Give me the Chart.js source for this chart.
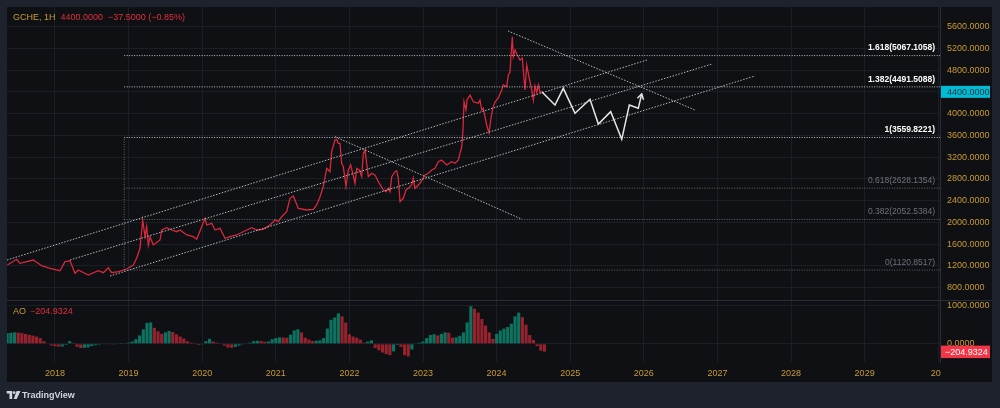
<!DOCTYPE html>
<html>
<head>
<meta charset="utf-8">
<script src="https://cdn.jsdelivr.net/npm/chart.js@4/dist/chart.umd.min.js"></script>
<style>
html,body{margin:0;padding:0;background:#1e222d;width:1000px;height:408px;overflow:hidden;font-family:'Liberation Sans',Arial,sans-serif}
#panel{position:absolute;left:7px;top:7px;width:985px;height:375px;background:#0e1013}
#c1{position:absolute;left:7px;top:7px}
#c2{position:absolute;left:7px;top:301px}
#sep{position:absolute;left:7px;top:300px;width:985px;height:1px;background:#2a2e39}
.lbl{position:absolute;font-size:9px;line-height:10px;white-space:nowrap}
.gold{color:#c99a35}
.red{color:#e0303f}
#tv{position:absolute;left:22px;top:390px;font-size:9px;font-weight:bold;color:#d1d4dc;line-height:11px}
</style>
</head>
<body>
<div id="panel"></div>
<canvas id="c1" width="985" height="293"></canvas>
<div id="sep"></div>
<canvas id="c2" width="985" height="81"></canvas>
<div class="lbl" style="left:13px;top:12px"><span class="gold">GCHE, 1H</span><span class="red" style="margin-left:5px">4400.0000</span><span class="red" style="margin-left:5px">−37.5000 (−0.85%)</span></div>
<div class="lbl" style="left:13px;top:306px"><span class="gold">AO</span><span class="red" style="margin-left:4px">−204.9324</span></div>
<svg style="position:absolute;left:6px;top:390px" width="15" height="10" viewBox="0 0 15 10">
<path d="M0.7 1h5.5v8h-2.7v-5.5h-2.8z" fill="#d1d4dc"/>
<circle cx="8.1" cy="2.6" r="1.4" fill="#d1d4dc"/>
<path d="M10.6 1h3.9l-3.8 8h-3z" fill="#d1d4dc"/>
</svg>
<div id="tv">TradingView</div>
<script>
// ---------- data ----------
const yearTicks = [2018,2019,2020,2021,2022,2023,2024,2025,2026,2027,2028,2029,2030];
const priceTicks = [800,1200,1600,2000,2400,2800,3200,3600,4000,4400,4800,5200,5600];
const aoTicks = [0,1000];

const priceYears = [2017.352,2017.480,2017.524,2017.705,2017.819,2017.932,2018.068,2018.136,2018.204,2018.272,
2018.317,2018.452,2018.588,2018.656,2018.724,2018.770,2018.860,2018.974,2019.064,2019.110,
2019.155,2019.192,2019.223,2019.246,2019.268,2019.291,2019.336,2019.427,2019.450,2019.518,
2019.586,2019.654,2019.698,2019.789,2019.879,2019.925,2019.993,2020.038,2020.061,2020.129,
2020.174,2020.242,2020.310,2020.378,2020.469,2020.605,2020.673,2020.740,2020.830,2020.921,
2020.989,2021.034,2021.080,2021.148,2021.193,2021.238,2021.306,2021.420,2021.510,2021.556,
2021.601,2021.645,2021.692,2021.736,2021.759,2021.804,2021.827,2021.849,2021.872,2021.895,
2021.917,2021.954,2021.985,2022.018,2022.045,2022.076,2022.099,2022.134,2022.167,2022.189,
2022.212,2022.235,2022.257,2022.303,2022.348,2022.393,2022.461,2022.497,2022.529,2022.552,
2022.575,2022.620,2022.643,2022.664,2022.688,2022.732,2022.769,2022.800,2022.846,2022.868,
2022.891,2022.959,2023.027,2023.072,2023.118,2023.163,2023.208,2023.254,2023.276,2023.322,
2023.390,2023.435,2023.480,2023.503,2023.526,2023.543,2023.557,2023.584,2023.598,2023.639,
2023.683,2023.751,2023.774,2023.798,2023.819,2023.865,2023.897,2023.920,2023.947,2023.978,
2024.023,2024.069,2024.091,2024.137,2024.159,2024.182,2024.196,2024.213,2024.227,2024.250,
2024.281,2024.318,2024.349,2024.372,2024.386,2024.409,2024.444,2024.477,2024.499,2024.522,
2024.545,2024.567,2024.590,2024.613];
const priceValues = [1214,1319,1245,1306,1201,1153,1109,1275,1293,1061,
1122,1030,1109,1072,1164,1072,1091,1140,1214,1343,
1521,2042,1735,1919,1582,1735,1582,1674,1858,1900,
1858,1827,1858,1766,1735,1687,1919,2073,1950,1981,
1858,1889,1705,1735,1766,1858,1900,1858,1871,1950,
2042,2011,2103,2195,2441,2484,2257,2226,2239,2318,
2471,2655,2993,2931,3299,3514,3527,3453,3453,3085,
3023,2655,2962,3054,2901,2717,2993,2962,2839,3269,
3330,3085,2839,2901,2870,2747,2594,2563,2625,2563,
2839,2931,2949,2809,2379,2441,2594,2625,2686,2809,
2625,2717,2870,2901,2962,2993,3115,3146,3115,3054,
3115,3085,3146,3269,3391,3698,4219,4066,4250,4342,
4219,4189,4250,4066,4097,3790,3643,3882,4097,4213,
4287,4434,4526,4495,4710,4765,5078,5415,5047,5170,
5078,4986,5017,4649,4434,4894,4649,4434,4250,4508,
4388,4526,4388,4400];

const projYears = [2024.613,2024.793,2024.906,2025.065,2025.269,2025.382,2025.550,2025.700,2025.803,2025.925,2025.971];
const projValues = [4400,4158,4465,4005,4263,3808,4035,3527,4158,4097,4360];

const fibRatios = ['1.618','1.382','1','0.618','0.382','0'];
const fibLevels = [5067.1058,4491.5088,3559.8221,2628.1354,2052.5384,1120.8517];
const fibStartYear = 2018.94;

const channelUpper = [[2017.348,1306],[2026.043,4986]];
const channelMiddle = [[2018.204,1306],[2026.927,4912]];
const channelLower = [[2018.747,1012],[2027.511,4692]];
const trendDown1 = [[2021.804,3575],[2024.345,2055]];
const trendDown2 = [[2024.155,5520],[2026.696,4066]];

const aoStart = 2017.35, aoStep = 0.05;
const aoValues = [280,290,300,295,280,260,235,215,190,150,
70,-10,-45,-60,-75,-70,-30,70,20,-80,
-110,-105,-95,-60,-40,-25,-15,-10,-10,-5,
0,5,15,30,60,120,220,380,550,560,
420,330,260,300,335,310,250,190,140,70,
30,10,-30,-20,70,130,60,30,10,-50,
-100,-105,-80,-50,-20,0,30,70,80,75,
55,60,120,150,170,165,160,240,350,380,
300,160,110,75,80,90,150,400,630,690,
800,720,560,250,190,160,110,30,60,90,
-110,-170,-230,-270,-300,-200,-30,-80,-300,-330,
-150,-10,30,60,150,230,250,220,260,300,
290,160,170,210,300,560,985,920,820,650,
480,300,130,260,350,400,440,530,720,820,
700,500,230,100,-60,-180,-204.9324];

// ---------- styles ----------
const GOLD = '#c99a35';
const GRID = '#1b1e25';
const BORDER = '#2a2e39';
const FONT = "'Liberation Sans', Arial, sans-serif";
const X_MIN = 2017.348, X_MAX = 2030.024;
const lastPrice = priceValues[priceValues.length-1];
const lastAO = aoValues[aoValues.length-1];

function seg(points, color, dash, width){
  return {type:'line', data:points.map(p=>({x:p[0],y:p[1]})), borderColor:color, borderWidth:width||1,
    borderDash:dash||[], pointRadius:0, fill:false, tension:0};
}

const datasets = [];
fibLevels.forEach((lv,i)=>{
  datasets.push(seg([[fibStartYear,lv],[X_MAX,lv]], i<3?'rgba(225,225,225,0.85)':'rgba(130,133,143,0.75)', [1,1.5], 1));
});
datasets.push(seg([[fibStartYear,fibLevels[5]],[fibStartYear,fibLevels[2]]], 'rgba(130,133,143,0.75)', [1,1.5], 1));
[channelUpper,channelMiddle,channelLower,trendDown1,trendDown2].forEach(l=>{
  datasets.push(seg(l, 'rgba(210,210,215,0.85)', [1.5,1.5], 1));
});
datasets.push({type:'line', data:priceYears.map((y,i)=>({x:y,y:priceValues[i]})), borderColor:'#d8283d', borderWidth:1.3, pointRadius:0, tension:0});
datasets.push({type:'line', data:projYears.map((y,i)=>({x:y,y:projValues[i]})), borderColor:'#e6e6e6', borderWidth:1.5, pointRadius:0, tension:0});

const priceOverlay = {
  id:'priceOverlay',
  afterDatasetsDraw(chart){
    const {ctx, scales:{x,y}} = chart;
    ctx.save();
    const n = projYears.length;
    const tx = x.getPixelForValue(projYears[n-1]), ty = y.getPixelForValue(projValues[n-1]);
    const px = x.getPixelForValue(projYears[n-2]), py = y.getPixelForValue(projValues[n-2]);
    const a = Math.atan2(ty-py, tx-px);
    ctx.strokeStyle = '#e6e6e6'; ctx.lineWidth = 1.5;
    ctx.beginPath();
    ctx.moveTo(tx-6*Math.cos(a-0.55), ty-6*Math.sin(a-0.55));
    ctx.lineTo(tx,ty);
    ctx.lineTo(tx-6*Math.cos(a+0.55), ty-6*Math.sin(a+0.55));
    ctx.stroke();
    ctx.textAlign = 'right'; ctx.textBaseline = 'middle';
    fibLevels.forEach((lv,i)=>{
      ctx.font = (i<3?'bold ':'') + '8.5px ' + FONT;
      ctx.fillStyle = i<3 ? '#ffffff' : '#6d717c';
      ctx.fillText(fibRatios[i]+'('+lv.toFixed(4)+')', x.getPixelForValue(X_MAX)-5, y.getPixelForValue(lv)-7.5);
    });
    ctx.restore();
  },
  afterDraw(chart){
    const {ctx, scales:{y}, chartArea} = chart;
    const py = y.getPixelForValue(lastPrice);
    ctx.save();
    ctx.fillStyle = '#00bcd4';
    ctx.fillRect(chartArea.right+1, py-6, 49, 12);
    ctx.fillStyle = '#17323b';
    ctx.font = '9px ' + FONT; ctx.textBaseline = 'middle'; ctx.textAlign = 'left';
    ctx.fillText(lastPrice.toFixed(4), chartArea.right+7, py+0.5);
    ctx.restore();
  }
};

new Chart(document.getElementById('c1'), {
  type:'line',
  data:{datasets},
  options:{
    animation:false, responsive:false, devicePixelRatio:1, layout:{padding:0},
    plugins:{legend:{display:false}, tooltip:{enabled:false}},
    scales:{
      x:{type:'linear', min:X_MIN, max:X_MAX,
        afterBuildTicks:s=>{s.ticks = yearTicks.map(v=>({value:v}));},
        afterFit:s=>{s.height=0; s.paddingLeft=0; s.paddingRight=0;},
        ticks:{display:false}, grid:{color:GRID, drawTicks:false}, border:{display:false}},
      y:{type:'linear', position:'right', min:570, max:5961,
        afterBuildTicks:s=>{s.ticks = priceTicks.map(v=>({value:v}));},
        afterFit:s=>{s.width=52; s.paddingTop=0; s.paddingBottom=0;},
        ticks:{color:GOLD, font:{family:FONT, size:9}, padding:7, callback:v=>Number(v).toFixed(4)},
        grid:{color:GRID, drawTicks:false}, border:{display:true, color:BORDER}}
    }
  },
  plugins:[priceOverlay]
});

const aoOverlay = {
  id:'aoOverlay',
  afterDraw(chart){
    const {ctx, scales:{y}, chartArea} = chart;
    const py = y.getPixelForValue(lastAO);
    ctx.save();
    ctx.fillStyle = '#f23645';
    ctx.fillRect(chartArea.right+1, py-6, 49, 12.5);
    ctx.fillStyle = '#ffffff';
    ctx.font = '9px ' + FONT; ctx.textBaseline = 'middle'; ctx.textAlign = 'left';
    ctx.fillText('−' + Math.abs(lastAO).toFixed(4), chartArea.right+5, py+0.5);
    ctx.restore();
  }
};

const aoColors = aoValues.map((v,i)=> (i===0 || v>aoValues[i-1]) ? 'rgba(12,140,118,0.8)' : 'rgba(196,40,55,0.75)');

new Chart(document.getElementById('c2'), {
  type:'bar',
  data:{datasets:[{data:aoValues.map((v,i)=>({x:aoStart+i*aoStep, y:v})), backgroundColor:aoColors, borderWidth:0, categoryPercentage:1, barPercentage:0.85}]},
  options:{
    animation:false, responsive:false, devicePixelRatio:1, layout:{padding:0},
    plugins:{legend:{display:false}, tooltip:{enabled:false}},
    scales:{
      x:{type:'linear', min:X_MIN, max:X_MAX, offset:false,
        afterBuildTicks:s=>{s.ticks = yearTicks.map(v=>({value:v}));},
        afterFit:s=>{s.height=20; s.paddingLeft=0; s.paddingRight=0;},
        ticks:{color:GOLD, font:{family:FONT, size:9}, padding:6, maxRotation:0, autoSkip:false, callback:v=> v===2030 ? '20  ' : String(v)},
        grid:{color:GRID, drawTicks:false, offset:false}, border:{display:false}},
      y:{type:'linear', position:'right', min:-478, max:1124,
        afterBuildTicks:s=>{s.ticks = aoTicks.map(v=>({value:v}));},
        afterFit:s=>{s.width=52; s.paddingTop=0; s.paddingBottom=0;},
        ticks:{color:GOLD, font:{family:FONT, size:9}, padding:7, callback:v=>Number(v).toFixed(4)},
        grid:{color:GRID, drawTicks:false}, border:{display:true, color:BORDER}}
    }
  },
  plugins:[aoOverlay]
});
</script>
</body>
</html>
